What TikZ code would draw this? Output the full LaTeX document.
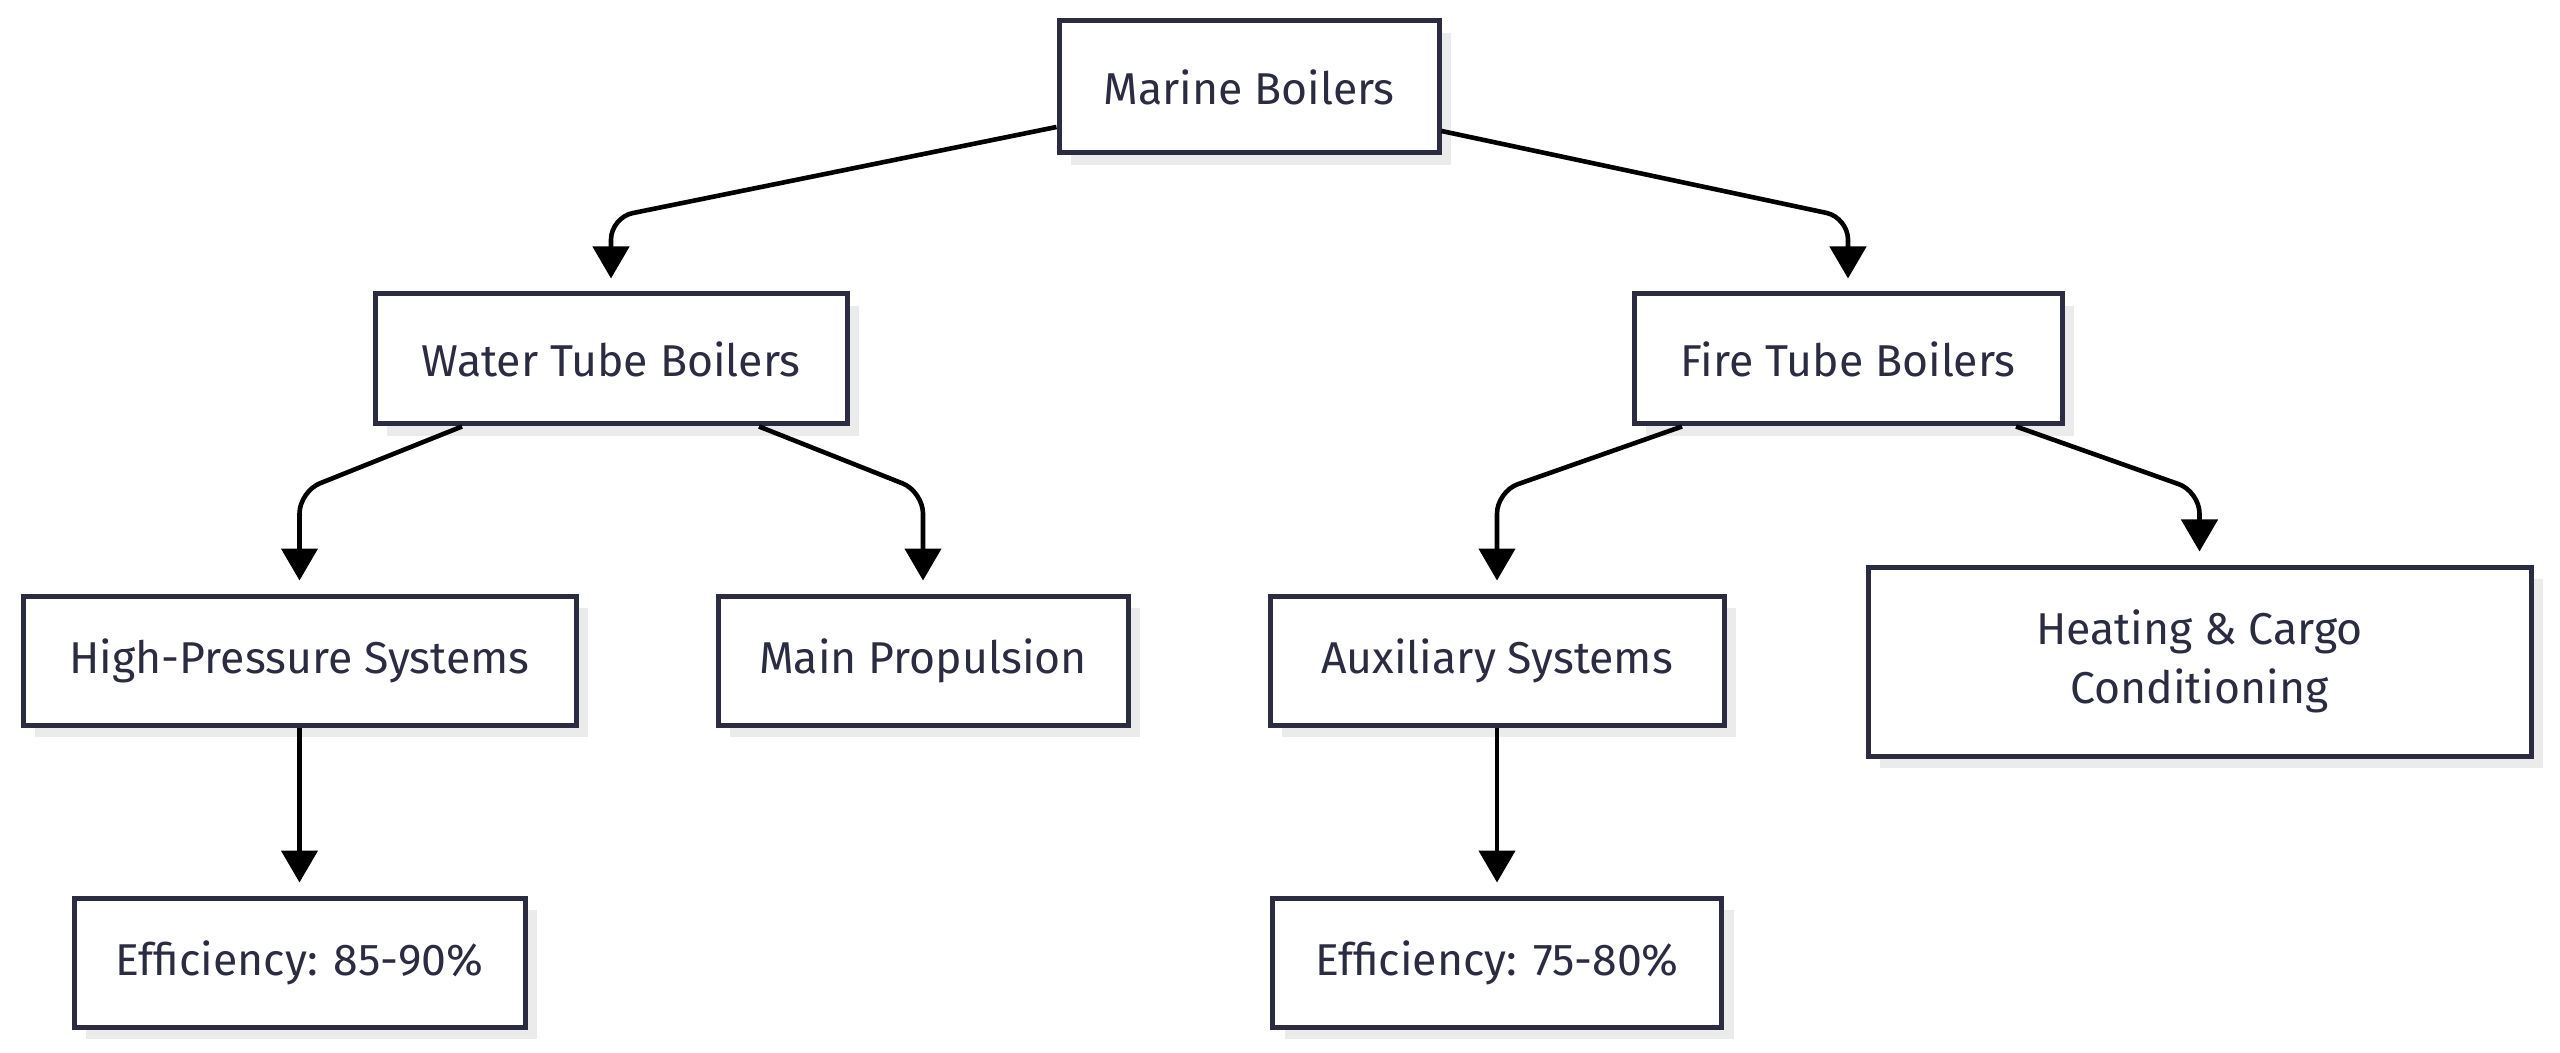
\documentclass[tikz,border=0pt]{standalone}
\usepackage{fontspec}
\setmainfont{Fira Sans}
\usetikzlibrary{arrows.meta,shadows}
\definecolor{ink}{HTML}{2B2B42}
\definecolor{shad}{HTML}{EBEBEB}
\tikzset{
  box/.style={draw=ink, line width=2.5pt, fill=white, text=ink,
    font=\fontsize{22.3}{29.5}\selectfont, align=center, inner sep=0pt,
    drop shadow={shadow xshift=6pt, shadow yshift=-6pt, fill=shad, opacity=1}},
  conn/.style={draw=black, line width=2.3pt, rounded corners=11pt,
    -{Triangle[length=16pt,width=18pt]}}
}
\begin{document}
\begin{tikzpicture}[x=0.5pt,y=-0.5pt]
\useasboundingbox (0,0) rectangle (2560,1053);
\node[box, minimum width=190pt, minimum height=66pt] (mb) at (1249,87) {Marine Boilers};
\node[box, minimum width=236pt, minimum height=65pt] (wt) at (611,359) {Water Tube Boilers};
\node[box, minimum width=214pt, minimum height=65pt] (ft) at (1848,359) {Fire Tube Boilers};
\node[box, minimum width=276.5pt, minimum height=64.5pt] (hp) at (299.5,660.5) {High-Pressure Systems};
\node[box, minimum width=205pt, minimum height=64.5pt] (mp) at (923,660.5) {Main Propulsion};
\node[box, minimum width=227pt, minimum height=64.5pt] (ax) at (1497,660.5) {Auxiliary Systems};
\node[box, minimum width=331.5pt, minimum height=94.5pt] (hc) at (2199.5,661.5) {Heating \& Cargo\\Conditioning};
\node[box, minimum width=225.5pt, minimum height=64.5pt] (e1) at (299.5,962.5) {Efficiency: 85-90\%};
\node[box, minimum width=224.5pt, minimum height=64.5pt] (e2) at (1497,962.5) {Efficiency: 75-80\%};

\draw[conn] ([yshift=-20pt]mb.west) -- ([yshift=37pt]wt.north) -- ([yshift=6.5pt]wt.north);
\draw[conn] ([yshift=-22pt]mb.east) -- ([yshift=37pt]ft.north) -- ([yshift=6.5pt]ft.north);
\draw[conn] ([xshift=-74.5pt]wt.south) -- ([yshift=51pt]hp.north) -- ([yshift=6.5pt]hp.north);
\draw[conn] ([xshift=74pt]wt.south) -- ([yshift=51pt]mp.north) -- ([yshift=6.5pt]mp.north);
\draw[conn] ([xshift=-83pt]ft.south) -- ([yshift=51pt]ax.north) -- ([yshift=6.5pt]ax.north);
\draw[conn] ([xshift=84pt]ft.south) -- ([yshift=36.5pt]hc.north) -- ([yshift=6.5pt]hc.north);
\draw[conn] (hp.south) -- ([yshift=6.5pt]e1.north);
\draw[conn] (ax.south) -- ([yshift=6.5pt]e2.north);
\end{tikzpicture}
\end{document}
